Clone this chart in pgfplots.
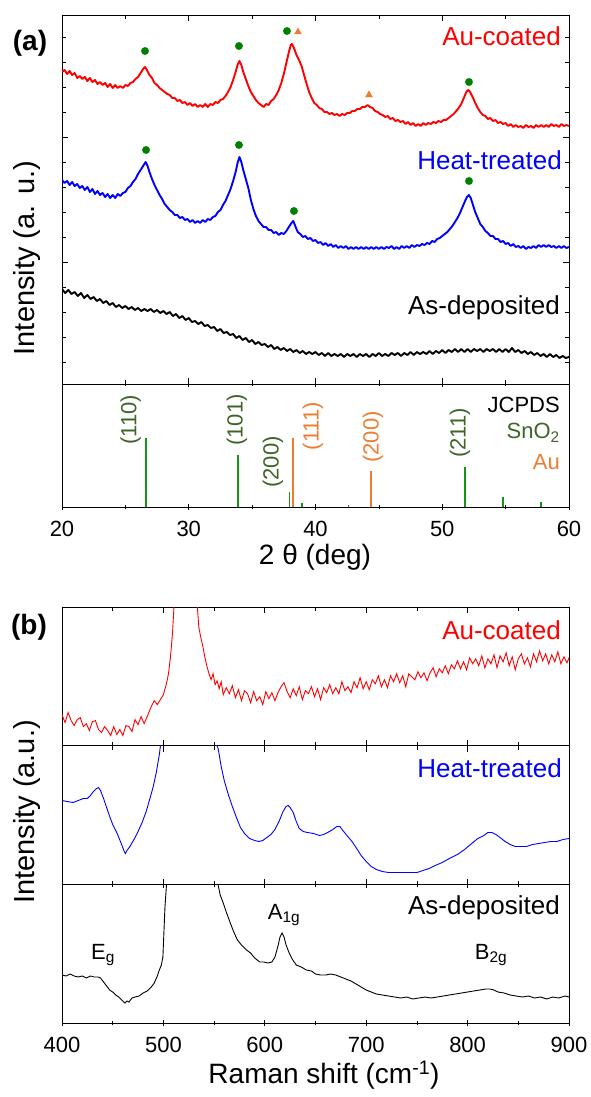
\documentclass[border=0pt]{standalone}
\usepackage{fontspec}
\setmainfont{Liberation Sans}
\usepackage{pgfplots}
\pgfplotsset{compat=1.18}
\definecolor{myred}{RGB}{255,0,0}
\definecolor{myblue}{RGB}{0,0,255}
\definecolor{mkgreen}{RGB}{0,128,0}
\definecolor{stkgreen}{RGB}{20,150,20}
\definecolor{lblgreen}{RGB}{62,100,40}
\definecolor{auorange}{RGB}{237,125,49}
\pgfplotsset{
  base/.style={scale only axis, width=507pt, axis line style={line width=0.8pt},
    every tick/.style={black, line width=0.7pt}, major tick length=6pt, minor tick length=4pt,
    tick align=inside, yticklabels={}, xticklabels={}, ytick=\empty,
    ticklabel style={font=\fontsize{22}{26}\selectfont},
    xticklabel style={yshift=-8pt}},
}
\begin{document}
\begin{tikzpicture}
\useasboundingbox (0pt,0pt) rectangle (590pt,-1097pt);
% ---------------- panel (a) XRD ----------------
\begin{axis}[base, at={(62pt,-15pt)}, anchor=north west, height=369pt,
  xmin=20, xmax=60, ymin=0, ymax=369,
  xtick={20,30,40,50,60}, minor xtick={25,35,45,55},
  ytick={122,247}, minor ytick={22,47,72,97,147,172,197,222,272,297,322,347}]
\addplot[myred, line width=1.9pt, line join=round] coordinates {
(20.0,312)(20.2,314)(20.4,310)(20.6,313)(20.8,309)(21.0,311)(21.2,306)(21.4,308)(21.6,305)(21.8,307)
(22.0,303)(22.2,306)(22.4,302)(22.6,304)(22.8,300)(23.0,302)(23.2,299)(23.4,301)(23.6,297)(23.8,300)
(24.0,296)(24.2,299)(24.4,296)(24.6,298)(24.8,296)(25.0,299)(25.2,298)(25.4,301)(25.6,302)(25.8,305)
(26.0,307)(26.2,311)(26.4,315)(26.55,317)(26.7,314)(26.9,309)(27.1,306)(27.3,301)(27.5,299)(27.7,296)
(27.9,294)(28.1,292)(28.3,290)(28.5,289)(28.7,286)(28.9,286)(29.1,283)(29.3,284)(29.5,281)(29.7,282)
(29.9,279)(30.1,281)(30.3,278)(30.5,280)(30.7,277)(30.9,279)(31.1,277)(31.3,280)(31.5,277)(31.7,280)
(31.9,279)(32.1,282)(32.3,281)(32.5,284)(32.7,285)(32.9,288)(33.1,292)(33.3,297)(33.5,304)(33.7,312)
(33.85,319)(34.0,323)(34.15,319)(34.3,312)(34.5,305)(34.7,298)(34.9,292)(35.1,288)(35.3,284)(35.5,281)
(35.7,279)(35.9,277)(36.1,280)(36.3,279)(36.5,283)(36.7,285)(36.9,289)(37.1,294)(37.3,301)(37.5,310)
(37.7,321)(37.9,332)(38.05,339)(38.15,340)(38.3,336)(38.5,329)(38.7,324)(38.9,318)(39.1,309)(39.3,300)
(39.5,292)(39.7,286)(39.9,281)(40.1,279)(40.3,276)(40.5,275)(40.7,272)(40.9,272)(41.1,270)(41.3,271)
(41.5,269)(41.7,270)(41.9,268)(42.1,270)(42.3,269)(42.5,271)(42.7,271)(42.9,273)(43.1,273)(43.3,275)
(43.5,275)(43.7,277)(43.9,277)(44.1,279)(44.3,277)(44.5,276)(44.7,273)(44.9,272)(45.1,270)(45.3,269)
(45.5,267)(45.7,268)(45.9,265)(46.1,266)(46.3,263)(46.5,264)(46.7,262)(46.9,263)(47.1,260)(47.3,262)
(47.5,259)(47.7,261)(47.9,258)(48.1,260)(48.3,258)(48.5,261)(48.7,259)(48.9,261)(49.1,260)(49.3,262)
(49.5,261)(49.7,263)(49.9,262)(50.1,264)(50.3,264)(50.5,266)(50.7,268)(50.9,270)(51.1,273)(51.3,276)
(51.5,280)(51.7,286)(51.9,292)(52.05,294)(52.2,292)(52.4,287)(52.6,281)(52.8,276)(53.0,272)(53.2,269)
(53.4,268)(53.6,265)(53.8,266)(54.0,263)(54.2,264)(54.4,261)(54.6,262)(54.8,260)(55.0,261)(55.2,258)
(55.4,260)(55.6,257)(55.8,259)(56.0,257)(56.2,258)(56.4,256)(56.6,259)(56.8,257)(57.0,258)(57.2,256)
(57.4,259)(57.6,257)(57.8,259)(58.0,257)(58.2,259)(58.4,257)(58.6,260)(58.8,258)(59.0,259)(59.2,257)
(59.4,260)(59.6,258)(59.8,259)(60.0,258)};
\addplot[myblue, line width=1.9pt, line join=round] coordinates {
(20.0,204)(20.2,201)(20.4,203)(20.6,199)(20.8,202)(21.0,198)(21.2,200)(21.4,196)(21.6,198)(21.8,194)
(22.0,197)(22.2,192)(22.4,195)(22.6,190)(22.8,193)(23.0,189)(23.2,191)(23.4,187)(23.6,190)(23.8,186)
(24.0,189)(24.2,186)(24.4,190)(24.6,188)(24.8,191)(25.0,192)(25.2,196)(25.4,198)(25.6,202)(25.8,205)
(26.0,210)(26.2,214)(26.4,218)(26.6,222)(26.75,218)(26.9,212)(27.1,205)(27.3,199)(27.5,194)(27.7,189)
(27.9,185)(28.1,180)(28.3,177)(28.5,174)(28.7,172)(28.9,169)(29.1,169)(29.3,166)(29.5,167)(29.7,164)
(29.9,165)(30.1,162)(30.3,164)(30.5,161)(30.7,163)(30.9,161)(31.1,164)(31.3,162)(31.5,165)(31.7,164)
(31.9,167)(32.1,168)(32.3,172)(32.5,174)(32.7,179)(32.9,183)(33.1,189)(33.3,195)(33.5,203)(33.7,212)
(33.85,221)(34.0,227)(34.15,222)(34.3,214)(34.5,205)(34.7,196)(34.9,184)(35.1,175)(35.3,168)(35.5,163)
(35.7,160)(35.9,157)(36.1,157)(36.3,154)(36.5,154)(36.7,151)(36.9,152)(37.1,149)(37.3,151)(37.5,150)
(37.7,153)(37.9,157)(38.1,161)(38.25,163)(38.4,158)(38.6,152)(38.8,150)(39.0,147)(39.2,148)(39.4,145)
(39.6,146)(39.8,143)(40.0,144)(40.2,141)(40.4,142)(40.6,139)(40.8,141)(41.0,138)(41.2,140)(41.4,137)
(41.6,139)(41.8,136)(42.0,138)(42.2,136)(42.4,138)(42.6,135)(42.8,137)(43.0,135)(43.2,137)(43.4,135)
(43.6,137)(43.8,135)(44.0,137)(44.2,135)(44.4,137)(44.6,135)(44.8,137)(45.0,135)(45.2,137)(45.4,135)
(45.6,137)(45.8,136)(46.0,138)(46.2,135)(46.4,137)(46.6,135)(46.8,138)(47.0,136)(47.2,138)(47.4,136)
(47.6,139)(47.8,137)(48.0,139)(48.2,138)(48.4,140)(48.6,139)(48.8,141)(49.0,140)(49.2,143)(49.4,142)
(49.6,145)(49.8,146)(50.0,148)(50.2,150)(50.4,152)(50.6,155)(50.8,158)(51.0,162)(51.2,166)(51.4,171)
(51.6,177)(51.8,183)(51.95,187)(52.1,189)(52.25,186)(52.4,180)(52.6,172)(52.8,166)(53.0,160)(53.2,157)
(53.4,153)(53.6,151)(53.8,148)(54.0,148)(54.2,145)(54.4,145)(54.6,142)(54.8,143)(55.0,140)(55.2,141)
(55.4,138)(55.6,140)(55.8,137)(56.0,138)(56.2,136)(56.4,138)(56.6,135)(56.8,137)(57.0,136)(57.2,138)
(57.4,136)(57.6,139)(57.8,137)(58.0,139)(58.2,137)(58.4,139)(58.6,137)(58.8,138)(59.0,136)(59.2,138)
(59.4,136)(59.6,138)(59.8,136)(60.0,137)};
\addplot[black, line width=1.9pt, line join=round] coordinates {
(20.00,95)(20.25,91)(20.50,94)(20.75,90)(21.00,92)(21.25,88)(21.50,91)(21.75,86)(22.00,89)(22.25,85)
(22.50,87)(22.75,83)(23.00,85)(23.25,81)(23.50,83)(23.75,79)(24.00,81)(24.25,77)(24.50,79)(24.75,76)
(25.00,78)(25.25,75)(25.50,77)(25.75,74)(26.00,76)(26.25,73)(26.50,75)(26.75,73)(27.00,75)(27.25,72)
(27.50,74)(27.75,71)(28.00,73)(28.25,70)(28.50,72)(28.75,68)(29.00,70)(29.25,66)(29.50,68)(29.75,64)
(30.00,66)(30.25,62)(30.50,63)(30.75,60)(31.00,62)(31.25,58)(31.50,59)(31.75,56)(32.00,57)(32.25,53)
(32.50,55)(32.75,51)(33.00,52)(33.25,49)(33.50,50)(33.75,46)(34.00,48)(34.25,44)(34.50,46)(34.75,42)
(35.00,44)(35.25,40)(35.50,42)(35.75,39)(36.00,40)(36.25,37)(36.50,39)(36.75,35)(37.00,37)(37.25,34)
(37.50,36)(37.75,33)(38.00,35)(38.25,32)(38.50,34)(38.75,31)(39.00,33)(39.25,30)(39.50,32)(39.75,30)
(40.00,32)(40.25,29)(40.50,31)(40.75,28)(41.00,31)(41.25,28)(41.50,30)(41.75,28)(42.00,30)(42.25,27)
(42.50,30)(42.75,28)(43.00,30)(43.25,27)(43.50,30)(43.75,28)(44.00,30)(44.25,27)(44.50,30)(44.75,28)
(45.00,31)(45.25,28)(45.50,30)(45.75,28)(46.00,31)(46.25,29)(46.50,31)(46.75,28)(47.00,31)(47.25,29)
(47.50,32)(47.75,29)(48.00,32)(48.25,30)(48.50,32)(48.75,30)(49.00,33)(49.25,30)(49.50,33)(49.75,31)
(50.00,34)(50.25,31)(50.50,34)(50.75,32)(51.00,35)(51.25,32)(51.50,35)(51.75,32)(52.00,35)(52.25,32)
(52.50,35)(52.75,33)(53.00,35)(53.25,32)(53.50,35)(53.75,33)(54.00,35)(54.25,32)(54.50,35)(54.75,32)
(55.00,35)(55.25,32)(55.50,36)(55.75,32)(56.00,34)(56.25,31)(56.50,33)(56.75,30)(57.00,32)(57.25,29)
(57.50,31)(57.75,28)(58.00,30)(58.25,27)(58.50,30)(58.75,27)(59.00,29)(59.25,26)(59.50,28)(59.75,26)
(60.00,27)};
\addplot[only marks, mark=*, mark size=3.7pt, mkgreen] coordinates {
(26.55,333)(33.96,338)(37.75,353)(52.11,302)(26.63,234)(33.96,239)(38.30,173)(52.11,203)};
\addplot[only marks, mark=triangle*, mark size=4pt, auorange] coordinates {(38.62,352)(44.22,289)};
\end{axis}
% sticks
\begin{axis}[base, at={(62pt,-384pt)}, anchor=north west, height=123pt,
  xmin=20, xmax=60, ymin=0, ymax=123, tick align=center,
  xtick={20,30,40,50,60}, xticklabels={20,30,40,50,60}, minor xtick={25,35,45,55}]
\addplot[ycomb, stkgreen, line width=1.7pt] coordinates {
(26.6,69)(33.9,52)(37.95,15)(38.95,4)(42.6,2)(51.8,40)(54.8,10)(57.8,5)};
\addplot[ycomb, auorange, line width=1.7pt] coordinates {(38.2,69)(44.4,36)};
\end{axis}
% ---------------- panel (b) Raman ----------------
\begin{axis}[base, at={(62pt,-607pt)}, anchor=north west, height=138.5pt,
  xmin=400, xmax=900, ymin=0, ymax=139,
  xtick={400,500,...,900}, minor xtick={450,550,...,850}]
\addplot[myred, line width=0.9pt] coordinates {
(400,31)(403,23)(406,33)(409,25)(412,20)(415,26)(418,28)(421,19)(424,22)(427,15)
(430,24)(433,25)(436,16)(439,13)(442,19)(445,15)(448,10)(451,19)(454,11)(457,16)
(460,10)(463,20)(466,19)(469,14)(472,26)(475,21)(478,29)(481,22)(484,29)(486,34)
(488,39)(491,45)(494,41)(497,46)(500,51)(503,62)(505,72)(507,89)(509,113)(511,150)
(520,300)(530,170)(533,146)(535,118)(537,108)(539,99)(541,88)(543,79)(545,72)(547,66)
(549,72)(551,61)(553,65)(555,57)(557,64)(559,51)(562,58)(565,52)(568,60)(571,48)
(574,56)(577,45)(580,55)(583,52)(586,43)(589,54)(592,45)(595,49)(598,41)(601,54)
(604,47)(607,53)(610,45)(613,53)(616,59)(619,63)(622,54)(625,48)(628,57)(631,50)
(634,59)(637,46)(640,55)(643,52)(646,59)(649,49)(652,57)(655,46)(658,58)(661,53)
(664,61)(667,52)(670,58)(673,52)(676,64)(679,55)(682,59)(685,53)(688,64)(691,58)
(694,68)(697,57)(700,64)(703,56)(706,66)(709,62)(712,70)(715,59)(718,66)(721,58)
(724,70)(727,64)(730,72)(733,63)(736,70)(739,59)(742,72)(745,69)(748,66)(751,74)
(754,68)(757,73)(760,65)(763,73)(766,78)(769,69)(772,77)(775,73)(778,80)(781,72)
(784,81)(787,77)(790,85)(793,77)(796,84)(799,76)(802,88)(805,82)(808,87)(811,80)
(814,90)(817,78)(820,87)(823,82)(826,91)(829,78)(832,90)(835,84)(838,93)(841,80)
(844,89)(847,76)(850,87)(853,92)(856,82)(859,88)(862,79)(865,92)(868,84)(871,95)
(874,85)(877,92)(880,82)(883,91)(886,84)(889,94)(892,82)(895,89)(898,83)(900,88)};
\end{axis}
\begin{axis}[base, at={(62pt,-745.5pt)}, anchor=north west, height=139pt,
  xmin=400, xmax=900, ymin=0, ymax=139,
  xtick={400,500,...,900}, minor xtick={450,550,...,850}]
\addplot[myblue, line width=0.9pt] coordinates {
(400,84)(405,83)(411,82)(416,84)(421,86)(425,86)(428,89)(431,93)(434,96)(436,97)
(438,94)(441,86)(444,77)(447,68)(450,60)(454,52)(458,42)(461,34)(462.5,31)(464,34)
(467,38)(471,45)(475,53)(479,62)(483,73)(487,87)(490,98)(493,112)(496,130)(498,146)
(502,175)(510,230)(520,260)(530,240)(540,200)(546,160)(550,146)(554,136)(557,118)(560,104)
(564,90)(568,78)(572,67)(576,57)(580,51)(585,46)(590,44)(594,43)(598,44)(602,47)
(606,50)(610,55)(614,63)(618,73)(621,78)(623,79)(625,77)(628,72)(631,63)(634,56)
(638,53)(642,52)(648,51)(654,49)(658,50)(662,52)(667,55)(671,58)(674,58)(677,54)
(681,49)(686,43)(690,37)(695,29)(700,23)(705,18)(710,15)(716,13)(722,12)(730,12)
(740,12)(750,12)(756,14)(762,16)(768,19)(775,22)(782,26)(790,30)(797,35)(804,41)
(810,46)(816,49)(820,52)(824,52)(828,50)(832,47)(837,43)(842,40)(847,38)(853,38)
(858,38)(864,40)(870,41)(876,42)(882,43)(888,43)(894,45)(900,46)};
\end{axis}
\begin{axis}[base, at={(62pt,-884.5pt)}, anchor=north west, height=138.5pt,
  xmin=400, xmax=900, ymin=0, ymax=138.5, tick align=center,
  xtick={400,500,...,900}, xticklabels={400,500,600,700,800,900}, minor xtick={450,550,...,850}]
\addplot[black, line width=0.9pt] coordinates {
(400,48)(404,47)(408,49)(412,47)(416,46)(420,47)(424,45)(428,47)(432,46)(436,46)
(438,45)(441,41)(444,37)(447,33)(450,31)(453,28)(456,26)(459,23)(462,20)(464,22)
(466,21)(469,25)(472,26)(476,27)(480,30)(484,32)(488,36)(491,40)(494,47)(496,53)
(498,58)(499.5,66)(500.6,93)(501.5,115)(502.5,130)(503.5,145)(510,250)(540,250)(552,150)(554,138)
(556,128)(559,120)(562,111)(566,100)(569,92)(573,83)(577,78)(582,73)(586,70)(590,65)
(595,61)(599,61)(603,60)(607,61)(610,66)(613,77)(615,86)(617,90)(619,86)(621,78)
(624,70)(627,64)(631,58)(636,56)(641,53)(646,52)(650,49)(655,48)(660,48)(665,49)
(670,48)(675,46)(680,44)(685,42)(690,39)(695,36)(700,33)(705,31)(710,29)(716,28)
(722,27)(728,26)(734,25)(740,26)(746,24)(752,25)(758,26)(764,25)(770,26)(776,27)
(782,28)(788,29)(794,30)(800,31)(806,32)(812,33)(818,34)(822,34)(826,33)(830,31)
(836,30)(842,28)(848,27)(854,26)(860,27)(866,25)(872,26)(878,24)(884,26)(890,25)
(896,27)(900,26)};
\end{axis}
% ---------------- texts ----------------
\begin{scope}[every node/.style={inner sep=0pt}]
\node[font=\fontsize{28}{32}\selectfont\bfseries] at (30pt,-43pt) {(a)};
\node[font=\fontsize{28}{32}\selectfont\bfseries] at (29pt,-627pt) {(b)};
\node[rotate=90, font=\fontsize{29}{33}\selectfont] at (27pt,-258pt) {Intensity (a. u.)};
\node[rotate=90, font=\fontsize{29}{33}\selectfont] at (27pt,-812pt) {Intensity (a.u.)};
\node[font=\fontsize{28}{32}\selectfont] at (315pt,-557pt) {2 θ (deg)};
\node[font=\fontsize{28}{32}\selectfont] at (324pt,-1075pt) {Raman shift (cm\textsuperscript{-1})};
\begin{scope}[every node/.append style={anchor=base east, font=\fontsize{26}{30}\selectfont}]
\node[text=myred] at (561pt,-46pt) {Au-coated};
\node[text=myblue] at (562pt,-169pt) {Heat-treated};
\node[text=black] at (560pt,-314pt) {As-deposited};
\node[text=myred] at (561pt,-639pt) {Au-coated};
\node[text=myblue] at (562pt,-777pt) {Heat-treated};
\node[text=black] at (560pt,-914pt) {As-deposited};
\end{scope}
\begin{scope}[every node/.append style={anchor=east, font=\fontsize{22}{26}\selectfont}]
\node[text=black] at (560pt,-405pt) {JCPDS};
\node[text=lblgreen] at (560pt,-433pt) {SnO\textsubscript{2}};
\node[text=auorange] at (560pt,-462pt) {Au};
\end{scope}
\begin{scope}[every node/.append style={rotate=90, font=\fontsize{22}{26}\selectfont}]
\node[text=lblgreen] at (130.6pt,-420pt) {(110)};
\node[text=lblgreen] at (237pt,-420pt) {(101)};
\node[text=lblgreen] at (273pt,-462pt) {(200)};
\node[text=auorange] at (313pt,-426pt) {(111)};
\node[text=auorange] at (373pt,-437pt) {(200)};
\node[text=lblgreen] at (460pt,-433pt) {(211)};
\end{scope}
\begin{scope}[every node/.append style={font=\fontsize{22}{26}\selectfont}]
\node at (103pt,-955pt) {E\textsubscript{g}};
\node at (284pt,-915pt) {A\textsubscript{1g}};
\node at (491pt,-955pt) {B\textsubscript{2g}};
\end{scope}
\end{scope}
\end{tikzpicture}
\end{document}
